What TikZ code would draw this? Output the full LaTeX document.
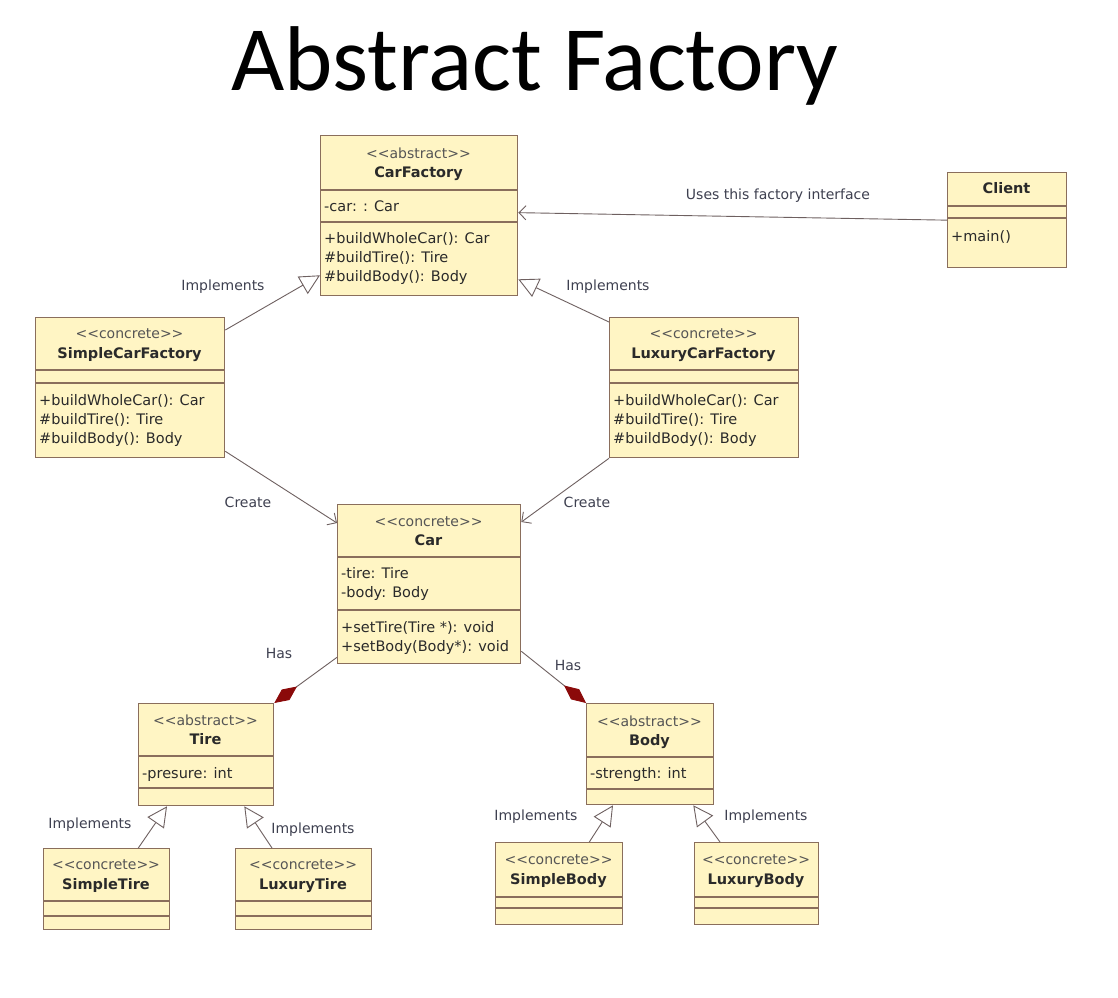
\documentclass[tikz,border=0pt]{standalone}
\usepackage{fontspec}
\setmainfont{DejaVu Sans}[Ligatures=TeXOff]
\newfontfamily\titlefont{Carlito}
\usetikzlibrary{arrows.meta}
\definecolor{boxfill}{HTML}{FFF5C4}
\definecolor{boxline}{HTML}{8A6E5C}
\definecolor{conn}{HTML}{6E6060}
\definecolor{dred}{HTML}{8B0A0A}
\definecolor{txt}{HTML}{2A2A2A}
\definecolor{stereo}{HTML}{555555}
\definecolor{lbl}{HTML}{3E4050}
\tikzset{
 cls/.style={draw=boxline, fill=boxfill, line width=1.3pt, inner sep=0pt, anchor=north west},
 divline/.style={draw=boxline, line width=1.1pt},
 stt/.style={font=\fontsize{14}{17}\selectfont, text=stereo, anchor=base, inner sep=0pt},
 nm/.style={font=\fontsize{14.5}{17}\selectfont\bfseries, text=txt, anchor=base, inner sep=0pt},
 mb/.style={font=\fontsize{14.5}{17}\selectfont, text=txt, anchor=base west, inner sep=0pt},
 lab/.style={font=\fontsize{14}{17}\selectfont, text=lbl, anchor=base, inner sep=0pt},
 impl/.style={draw=conn, line width=0.9pt, -{Triangle[open, length=20pt, width=20pt, fill=white]}},
 uses/.style={draw=conn, line width=0.9pt, -{Straight Barb[length=7pt, width=14pt]}},
 has/.style={draw=conn, line width=0.9pt, -{Diamond[length=28pt, width=13pt, fill=dred, color=dred]}},
}
\newcommand\hdiv[2]{\draw[divline] ([yshift=-#2pt]#1.north west) -- ([yshift=-#2pt]#1.north east);}
\begin{document}
\begin{tikzpicture}[x=1pt,y=-1pt]
\fill[white] (0,0) rectangle (1118,997);
\useasboundingbox (0,0) rectangle (1118,997);

% title
\node[anchor=base, inner sep=0pt, font=\titlefont\fontsize{92}{100}\selectfont] (title) at (535,90) {Abstract Factory};

% CarFactory
\node[cls, minimum width=197pt, minimum height=160pt] (cf) at (320,135) {};
\hdiv{cf}{55}\hdiv{cf}{87}
\node[stt] (cfs) at (418.5,158) {<<abstract>>};
\node[nm] (cfn) at (418.5,177) {CarFactory};
\node[mb] (cfa) at (324,211) {-car: : Car};
\node[mb] (cfo1) at (324,243) {+buildWholeCar(): Car};
\node[mb] (cfo2) at (324,262) {\#buildTire(): Tire};
\node[mb] (cfo3) at (324,281) {\#buildBody(): Body};

% Client
\node[cls, minimum width=119pt, minimum height=95pt] (cl) at (947,172) {};
\hdiv{cl}{34}\hdiv{cl}{46}
\node[nm] (cln) at (1006.5,193) {Client};
\node[mb] (clo) at (951,241) {+main()};

% SimpleCarFactory
\node[cls, minimum width=189pt, minimum height=140pt] (scf) at (35,317) {};
\hdiv{scf}{53}\hdiv{scf}{66}
\node[stt] (scfs) at (129.5,338) {<<concrete>>};
\node[nm] (scfn) at (129.5,358) {SimpleCarFactory};
\node[mb] (scfo1) at (39,405) {+buildWholeCar(): Car};
\node[mb] (scfo2) at (39,424) {\#buildTire(): Tire};
\node[mb] (scfo3) at (39,443) {\#buildBody(): Body};

% LuxuryCarFactory
\node[cls, minimum width=189pt, minimum height=140pt] (lcf) at (609,317) {};
\hdiv{lcf}{53}\hdiv{lcf}{66}
\node[stt] (lcfs) at (703.5,338) {<<concrete>>};
\node[nm] (lcfn) at (703.5,358) {LuxuryCarFactory};
\node[mb] (lcfo1) at (613,405) {+buildWholeCar(): Car};
\node[mb] (lcfo2) at (613,424) {\#buildTire(): Tire};
\node[mb] (lcfo3) at (613,443) {\#buildBody(): Body};

% Car
\node[cls, minimum width=183pt, minimum height=159pt] (car) at (337,504) {};
\hdiv{car}{53}\hdiv{car}{106}
\node[stt] (cars) at (428.5,526) {<<concrete>>};
\node[nm] (carn) at (428.5,545) {Car};
\node[mb] (cara1) at (341,578) {-tire: Tire};
\node[mb] (cara2) at (341,597) {-body: Body};
\node[mb] (caro1) at (341,632) {+setTire(Tire *): void};
\node[mb] (caro2) at (341,651) {+setBody(Body*): void};

% Tire
\node[cls, minimum width=135pt, minimum height=102pt] (tire) at (138,703) {};
\hdiv{tire}{53}\hdiv{tire}{85}
\node[stt] (tires) at (205.5,725) {<<abstract>>};
\node[nm] (tiren) at (205.5,744) {Tire};
\node[mb] (tirea) at (142,778) {-presure: int};

% Body
\node[cls, minimum width=127pt, minimum height=101pt] (body) at (586,703) {};
\hdiv{body}{54}\hdiv{body}{86}
\node[stt] (bodys) at (649.5,726) {<<abstract>>};
\node[nm] (bodyn) at (649.5,745) {Body};
\node[mb] (bodya) at (590,778) {-strength: int};

% SimpleTire
\node[cls, minimum width=126pt, minimum height=81pt] (stire) at (43,848) {};
\hdiv{stire}{53}\hdiv{stire}{68}
\node[stt] (stires) at (106,869) {<<concrete>>};
\node[nm] (stiren) at (106,889) {SimpleTire};

% LuxuryTire
\node[cls, minimum width=136pt, minimum height=81pt] (ltire) at (235,848) {};
\hdiv{ltire}{53}\hdiv{ltire}{68}
\node[stt] (ltires) at (303,869) {<<concrete>>};
\node[nm] (ltiren) at (303,889) {LuxuryTire};

% SimpleBody
\node[cls, minimum width=127pt, minimum height=82pt] (sbody) at (495,842) {};
\hdiv{sbody}{55}\hdiv{sbody}{66}
\node[stt] (sbodys) at (558.5,864) {<<concrete>>};
\node[nm] (sbodyn) at (558.5,884) {SimpleBody};

% LuxuryBody
\node[cls, minimum width=124pt, minimum height=82pt] (lbody) at (694,842) {};
\hdiv{lbody}{55}\hdiv{lbody}{66}
\node[stt] (lbodys) at (756,864) {<<concrete>>};
\node[nm] (lbodyn) at (756,884) {LuxuryBody};

% connectors
\draw[impl] ([yshift=-13pt]scf.north east) -- ([yshift=21pt]cf.south west);
\draw[impl] ([yshift=-5pt]lcf.north west) -- ([yshift=17pt]cf.south east);
\draw[uses] (cl.west) -- ([yshift=3pt]cf.east);
\draw[uses] ([yshift=7pt]scf.south east) -- ([yshift=-19pt]car.north west);
\draw[uses] (lcf.south west) -- ([yshift=-18pt]car.north east);
\draw[has] ([yshift=7pt]car.south west) -- (tire.north east);
\draw[has] ([yshift=13pt]car.south east) -- (body.north west);
\draw[impl] ([xshift=-32pt]stire.north east) -- ([xshift=29pt]tire.south west);
\draw[impl] ([xshift=37pt]ltire.north west) -- ([xshift=-30pt]tire.south east);
\draw[impl] ([xshift=-34pt]sbody.north east) -- ([xshift=27pt]body.south west);
\draw[impl] ([xshift=26pt]lbody.north west) -- ([xshift=-21pt]body.south east);

% labels
\node[lab] (l1) at (223,290) {Implements};
\node[lab] (l2) at (608,290) {Implements};
\node[lab] (l3) at (778,199) {Uses this factory interface};
\node[lab] (l4) at (248,507) {Create};
\node[lab] (l5) at (587,507) {Create};
\node[lab] (l6) at (279,658) {Has};
\node[lab] (l7) at (568,670) {Has};
\node[lab] (l8) at (90,828) {Implements};
\node[lab] (l9) at (313,833) {Implements};
\node[lab] (l10) at (536,820) {Implements};
\node[lab] (l11) at (766,820) {Implements};
\end{tikzpicture}
\end{document}
